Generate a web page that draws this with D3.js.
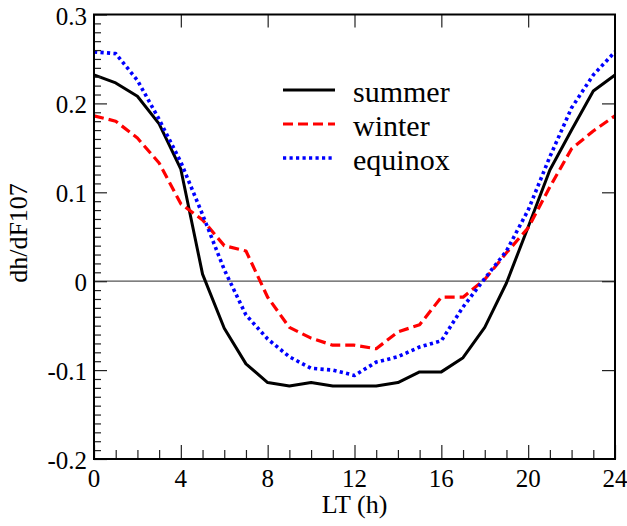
<!DOCTYPE html>
<html>
<head>
<meta charset="utf-8">
<script src="https://cdn.jsdelivr.net/npm/d3@7"></script>
</head>
<body style="margin:0">
<svg></svg>
<script>
let hours = d3.range(0, 25)
let summer = [0.232, 0.223, 0.208, 0.177, 0.126, 0.008, -0.053, -0.093, -0.114, -0.118, -0.114, -0.118, -0.118,
  -0.118, -0.114, -0.102, -0.102, -0.086, -0.052, -0.002, 0.061, 0.125, 0.170, 0.214, 0.232]
let winter = [0.186, 0.180, 0.161, 0.133, 0.087, 0.069, 0.040, 0.034, -0.018, -0.052, -0.064, -0.072, -0.072,
  -0.076, -0.057, -0.049, -0.018, -0.018, 0.002, 0.032, 0.060, 0.106, 0.149, 0.169, 0.186]
let equinox = [0.258, 0.256, 0.226, 0.182, 0.134, 0.075, 0.013, -0.038, -0.065, -0.085, -0.098, -0.100, -0.106,
  -0.091, -0.085, -0.074, -0.067, -0.029, 0.003, 0.034, 0.080, 0.140, 0.195, 0.232, 0.258]

let xTicks = [0, 4, 8, 12, 16, 20, 24]
let yTicks = [-0.2, -0.1, 0, 0.1, 0.2, 0.3]
let seriesNames = ['summer', 'winter', 'equinox']

let width = 627
let height = 526
let plotLeft = 94, plotRight = 615, plotTop = 14.5, plotBottom = 459
let fontStack = "'Tinos', 'Liberation Serif', 'Nimbus Roman', 'FreeSerif', 'Times New Roman', 'DejaVu Serif', serif"

let svg = d3.select('svg').attr('width', width).attr('height', height)

let xScale = d3.scaleLinear().domain([0, 24]).range([plotLeft, plotRight])
let yScale = d3.scaleLinear().domain([-0.2, 0.3]).range([plotBottom, plotTop])

let series = [
  { name: seriesNames[0], values: summer, color: '#000000', dash: null, w: 3 },
  { name: seriesNames[1], values: winter, color: '#ff0000', dash: '10,5', w: 3.2 },
  { name: seriesNames[2], values: equinox, color: '#0000ff', dash: '3.2,3.3', w: 3.6 }
]

// text helper, font set on the element itself
let addText = (parent, str, size) => {
  return parent.append('text')
    .style('font-family', fontStack)
    .style('font-size', size + 'px')
    .text(str)
}

// zero line
svg.append('line')
  .attr('x1', plotLeft).attr('x2', plotRight)
  .attr('y1', yScale(0)).attr('y2', yScale(0))
  .attr('stroke', '#555').attr('stroke-width', 1.2)

let line = d3.line()
  .x((d, i) => xScale(hours[i]))
  .y(d => yScale(d))

svg.append('g')
  .selectAll('path')
  .data(series)
  .enter()
  .append('path')
  .attr('d', d => line(d.values))
  .attr('fill', 'none')
  .attr('stroke', d => d.color)
  .attr('stroke-width', d => d.w)
  .attr('stroke-dasharray', d => d.dash)
  .attr('stroke-linejoin', 'round')

// minor ticks
let minorX = d3.range(0, 25).filter(v => v % 4 !== 0)
let minorY = d3.range(-20, 31).map(v => v / 100).filter((v, i) => i % 10 !== 0)

let styleAxis = (g) => {
  g.select('.domain').remove()
  g.selectAll('.tick line').attr('stroke', '#222').attr('stroke-width', 1.2)
  g.selectAll('text').remove()
}

svg.append('g')
  .attr('transform', 'translate(0,' + plotBottom + ')')
  .call(d3.axisBottom(xScale).tickValues(minorX).tickSize(-9).tickFormat(''))
  .call(styleAxis)

svg.append('g')
  .attr('transform', 'translate(0,' + plotBottom + ')')
  .call(d3.axisBottom(xScale).tickValues(xTicks).tickSize(-14).tickFormat(''))
  .call(styleAxis)

svg.append('g')
  .attr('transform', 'translate(0,' + plotTop + ')')
  .call(d3.axisTop(xScale).tickValues(xTicks.slice(1, -1)).tickSize(-13).tickFormat(''))
  .call(styleAxis)

svg.append('g')
  .attr('transform', 'translate(' + plotLeft + ',0)')
  .call(d3.axisLeft(yScale).tickValues(minorY).tickSize(-7).tickFormat(''))
  .call(styleAxis)

svg.append('g')
  .attr('transform', 'translate(' + plotLeft + ',0)')
  .call(d3.axisLeft(yScale).tickValues(yTicks).tickSize(-13).tickFormat(''))
  .call(styleAxis)

svg.append('g')
  .attr('transform', 'translate(' + plotRight + ',0)')
  .call(d3.axisRight(yScale).tickValues(yTicks.slice(1, -1)).tickSize(-13).tickFormat(''))
  .call(styleAxis)

// tick labels
let labels = svg.append('g')
xTicks.forEach((t) => {
  addText(labels, String(t), 25)
    .attr('x', xScale(t))
    .attr('y', plotBottom + 28)
    .attr('text-anchor', 'middle')
})
yTicks.forEach((t) => {
  addText(labels, t === 0 ? '0' : t.toFixed(1), 25)
    .attr('x', plotLeft - 7)
    .attr('y', yScale(t) + 10)
    .attr('text-anchor', 'end')
})

// frame
svg.append('rect')
  .attr('x', plotLeft).attr('y', plotTop)
  .attr('width', plotRight - plotLeft).attr('height', plotBottom - plotTop)
  .attr('fill', 'none').attr('stroke', '#000').attr('stroke-width', 2)

// axis titles
addText(svg, 'LT (h)', 26)
  .attr('x', (plotLeft + plotRight) / 2)
  .attr('y', 513)
  .attr('text-anchor', 'middle')

addText(svg, 'dh/dF107', 26)
  .attr('transform', 'translate(27,233) rotate(-90)')
  .attr('text-anchor', 'middle')

// legend
let legendY = d3.scalePoint().domain(seriesNames).range([90, 158])
let legend = svg.append('g')
series.forEach((s) => {
  let y = legendY(s.name)
  legend.append('line')
    .attr('x1', 283).attr('x2', 335)
    .attr('y1', y).attr('y2', y)
    .attr('stroke', s.color)
    .attr('stroke-width', s.w)
    .attr('stroke-dasharray', s.dash)
  addText(legend, s.name, 30)
    .attr('x', 353)
    .attr('y', y + 12)
})
</script>
</body>
</html>
